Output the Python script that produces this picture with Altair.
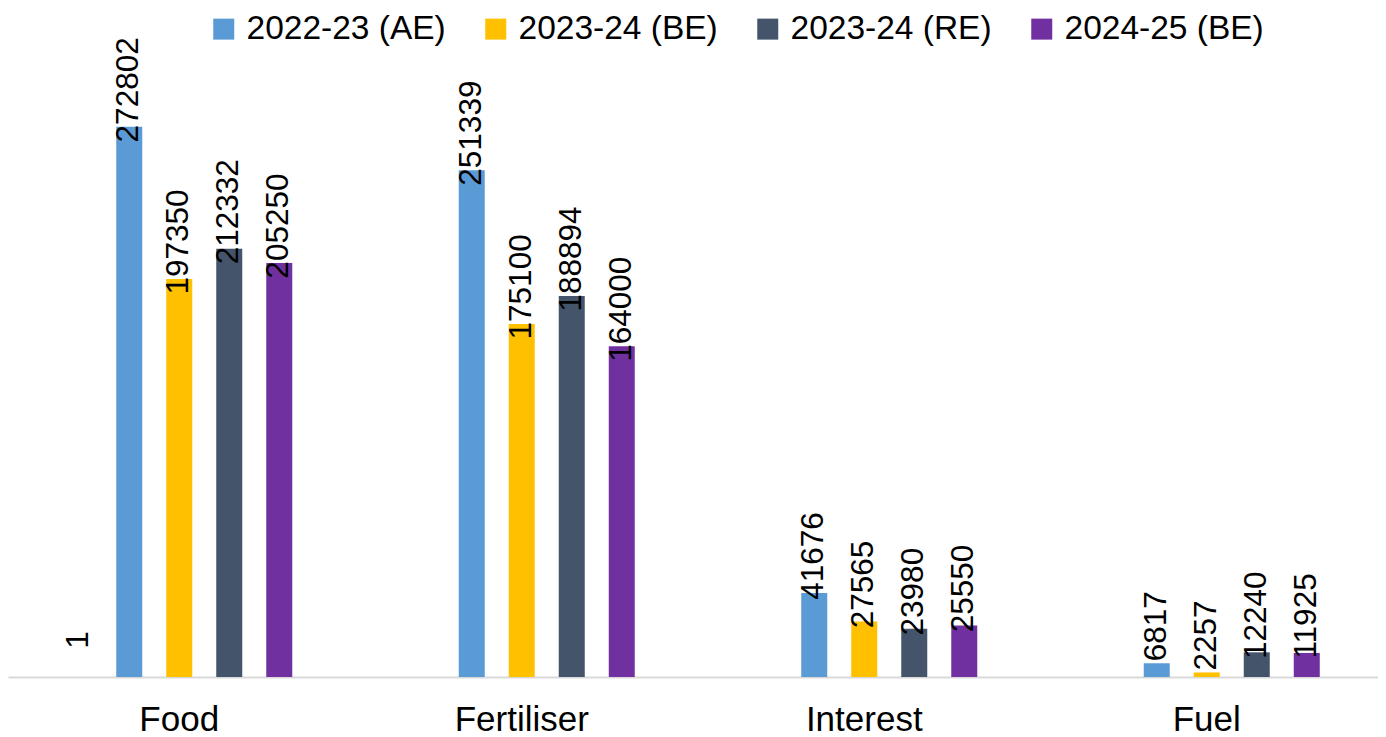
import altair as alt
import pandas as pd

categories = ["Food", "Fertiliser", "Interest", "Fuel"]
series = ["2022-23 (AE)", "2023-24 (BE)", "2023-24 (RE)", "2024-25 (BE)"]
colors = ["#5B9BD5", "#FFC000", "#44546A", "#7030A0"]

v_2022_23_ae = [272802, 251339, 41676, 6817]
v_2023_24_be = [197350, 175100, 27565, 2257]
v_2023_24_re = [212332, 188894, 23980, 12240]
v_2024_25_be = [205250, 164000, 25550, 11925]

# unnamed extra series with no visible bar (only its label "1" shows, at Food)
blank_series = " "
blank_categories = ["Food"]
blank_values = [1]

all_values = [v_2022_23_ae, v_2023_24_be, v_2023_24_re, v_2024_25_be]
rows = []
for s, vals in zip(series, all_values):
    for c, v in zip(categories, vals):
        rows.append({"category": c, "series": s, "value": v})
df = pd.DataFrame(rows)
blank_df = pd.DataFrame({"category": blank_categories,
                         "series": [blank_series] * len(blank_categories),
                         "value": blank_values})
label_df = pd.concat([blank_df, df], ignore_index=True)

offset_domain = [blank_series] + series

x_enc = alt.X("category:N", sort=categories,
              scale=alt.Scale(domain=categories, paddingInner=0.27, paddingOuter=0.135),
              axis=alt.Axis(title=None, labelAngle=0, ticks=False, grid=False,
                            domainColor="#D9D9D9", domainWidth=2,
                            labelFont="Liberation Sans", labelFontSize=35,
                            labelColor="#000000", labelPadding=25))
xo_enc = alt.XOffset("series:N", sort=offset_domain,
                     scale=alt.Scale(domain=offset_domain, paddingInner=0.48, paddingOuter=0.24))
y_enc = alt.Y("value:Q", scale=alt.Scale(domain=[0, 300000], nice=False, zero=True), axis=None)

bars = alt.Chart(df).mark_bar().encode(
    x=x_enc, xOffset=xo_enc, y=y_enc,
    color=alt.Color("series:N", sort=series,
                    scale=alt.Scale(domain=series, range=colors),
                    legend=alt.Legend(orient="none", legendX=199, legendY=-60,
                                      direction="horizontal", columns=4, title=None,
                                      symbolType="square", symbolSize=441,
                                      symbolStrokeWidth=0, symbolOpacity=1,
                                      labelFont="Liberation Sans", labelFontSize=33.5,
                                      labelColor="#000000", labelOffset=6,
                                      labelLimit=0, columnPadding=33)),
)

labels = alt.Chart(label_df).mark_text(angle=270, align="center", baseline="middle",
                                       dx=37, font="Liberation Sans", fontSize=31.5,
                                       color="#000000").encode(
    x=x_enc, xOffset=xo_enc, y=y_enc, text=alt.Text("value:Q", format="d"))

chart = alt.layer(bars, labels).properties(
    width=1370, height=605,
    autosize=alt.AutoSizeParams(type="none"),
    padding={"left": 0, "right": 0, "top": 64, "bottom": 64},
).configure_view(stroke=None)

chart.save("out.html", embed_options={"renderer": "svg", "actions": False})
